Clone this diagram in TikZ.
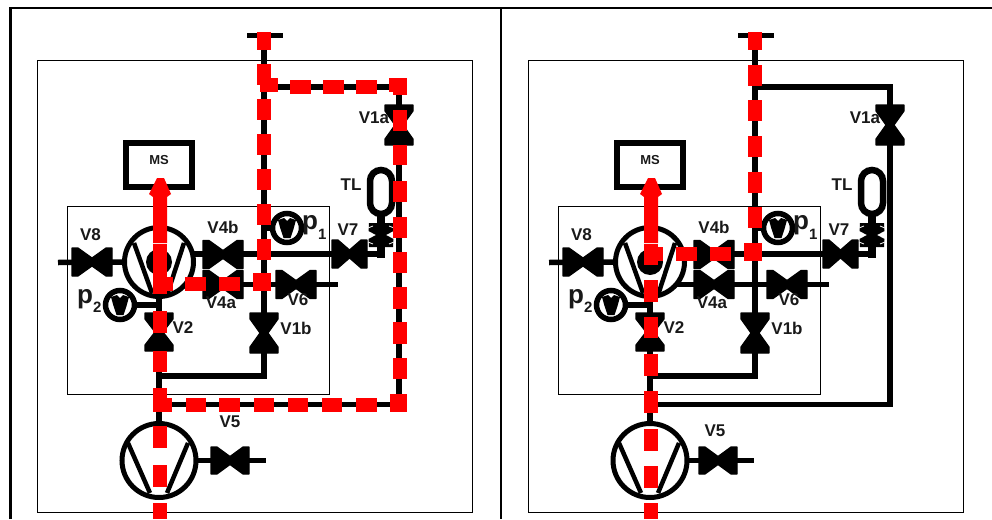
\documentclass[tikz,border=0pt]{standalone}
\usepackage{fontspec}
\setmainfont{Liberation Sans}
\tikzset{
  x=1pt,y=-1pt,
  pipe/.style={line width=5.5pt,draw=black,line cap=butt,line join=miter},
  thinframe/.style={line width=1pt,draw=black},
  heavyframe/.style={line width=2.4pt,draw=black},
  pumpring/.style={line width=5pt,draw=black,fill=white},
  pumpv/.style={line width=4.5pt,draw=black},
  msbox/.style={line width=6pt,draw=black,fill=white},
  redflow/.style={fill=red,draw=none},
  lab/.style={font=\bfseries\fontsize{17}{17}\selectfont,text=black!90,inner sep=0pt},
  mslab/.style={font=\bfseries\fontsize{13}{13}\selectfont,text=black!90,inner sep=0pt},
  gaugelab/.style={font=\bfseries\fontsize{26}{26}\selectfont,text=black!90,inner sep=0pt,anchor=base west},
  pics/valve/.style args={#1/#2}{code={
    \fill[black,line join=round,draw=black,line width=1.2pt]
      (-#1,-#2)--(-#1+6,-#2)--(0,-4)--(#1-6,-#2)--(#1,-#2)--(#1,#2)--(#1-6,#2)--(0,4)--(-#1+6,#2)--(-#1,#2)--cycle;
  }},
  pics/gauge/.style={code={
    \draw[line width=5.5pt,draw=black,fill=white] (0,0) circle (14.5);
    \fill[black] (-9,-8)--(-3,-10)--(0,-7)--(3,-10)--(9,-8)--(6.5,1)--(3.5,10)--(-3.5,10)--(-6.5,1)--cycle;
  }},
  pics/trap/.style={code={
    \fill[black] (-12,-12)--(12,-12)--(12.5,-4)--(5,0)--(12.5,4)--(12,12)--(-12,12)--(-12.5,4)--(-5,0)--(-12.5,-4)--cycle;
    \draw[white,line width=.8pt] (-13,-7)--(-8,-9) (13,-7)--(8,-9) (-13,7)--(-8,9) (13,7)--(8,9);
  }}
}
% #1 prefix, #2 x-shift, #3 valve V5 x, #4 V5 label x, #5 V5 label y
\newcommand{\plant}[5]{%
\begin{scope}[xshift=#2pt]
  \draw[thinframe] (37.5,60.5) rectangle (472.5,512.5);
  \draw[thinframe] (67.5,206) rectangle (329.5,394);
  % junction points
  \coordinate (#1capL) at (247,35.5); \coordinate (#1capR) at (283,35.5);
  \coordinate (#1top) at (264,35.5); \coordinate (#1ja) at (264,87);
  \coordinate (#1jb) at (399,87); \coordinate (#1jc) at (399,404.5);
  \coordinate (#1jd) at (159,404.5); \coordinate (#1je) at (264,376);
  \coordinate (#1jf) at (159,376); \coordinate (#1jg) at (264,254);
  \coordinate (#1jh) at (264,284.5); \coordinate (#1ji) at (381,254);
  \coordinate (#1upump) at (159,262); \coordinate (#1lpump) at (159,460.5);
  \coordinate (#1g1) at (287,228); \coordinate (#1g2) at (120,305);
  \coordinate (#1vfive) at (#3,460.5);
  % pipes
  \draw[pipe] (#1capL)--(#1capR);
  \draw[pipe] (#1top)--(#1je)--(#1jf);
  \draw[pipe] (#1ja)--(#1jb)--(#1jc)--(#1jd);
  \draw[pipe] (#1upump)--(#1lpump);
  \draw[pipe] (58,262.5)--(#1upump);
  \draw[pipe] (#1upump |- #1jg)--(#1ji);
  \draw[pipe] (#1upump |- #1jh)--(338,284.5);
  \draw[pipe] (#1g1)--(#1g1 -| #1top);
  \draw[pipe] (#1g2)--(#1g2 -| #1upump);
  \draw[pipe] (#1lpump)--(#3+36,460.5);
  \draw[line width=7.5pt] (381,205)--(381,258);
  % pumps
  \draw[pumpring] (#1upump) circle (34.5);
  \draw[pumpring] (#1lpump) circle (37);
  \fill[black] (#1upump) circle (13);
  \draw[pumpv] (134,243)--(152,293) (184,243)--(167,295);
  \draw[pumpv] (128,443)--(150,493) (188,443)--(167,493);
  % valves
  \pic at (92,262) {valve=20/14};
  \pic at (223,254.5) {valve=20/14};
  \pic at (223,284.5) {valve=20/14};
  \pic at (296,284.5) {valve=20/14};
  \pic at (349.5,254) {valve=17.5/14};
  \pic at (#3,460.5) {valve=19/13.5};
  \pic[rotate=90] at (399,125) {valve=20/14};
  \pic[rotate=90] at (264,333) {valve=20/14};
  \pic[rotate=90] at (159,332) {valve=19/14};
  % tank with isolation valve
  \pic at (381,235) {trap};
  \draw[line width=6.5pt,fill=white,rounded corners=11pt] (370,170) rectangle (392,214);
  % gauges
  \pic at (#1g1) {gauge};
  \pic at (#1g2) {gauge};
  % mass spectrometer
  \draw[msbox] (126,143) rectangle (192,187);
  \node[mslab] (#1ms) at (159,160) {MS};
  % labels
  \node[lab] (#1lV8) at (90.5,235) {V8};
  \node[lab] (#1lV4b) at (223,227.5) {V4b};
  \node[lab] (#1lV4a) at (221,302.5) {V4a};
  \node[lab] (#1lV2) at (183,327.5) {V2};
  \node[lab] (#1lV1b) at (296,328) {V1b};
  \node[lab] (#1lV1a) at (374,117.5) {V1a};
  \node[lab] (#1lTL) at (351,184.5) {TL};
  \node[lab] (#1lV7) at (348,229.5) {V7};
  \node[lab] (#1lV6) at (298,299.5) {V6};
  \node[lab] (#1lV5) at (#4,#5) {V5};
  \node[gaugelab] (#1lp1) at (302,229.5) {p\raisebox{-9.5pt}{\fontsize{15}{15}\selectfont 1}};
  \node[gaugelab] (#1lp2) at (77,303) {p\raisebox{-9.5pt}{\fontsize{15}{15}\selectfont 2}};
  % flow arrow into MS
  \fill[redflow] (157,178)--(164,178)--(171,194)--(167,197)--(167,243)--(153,243)--(153,197)--(149,194)--cycle;
\end{scope}}
\newcommand{\rd}[4]{\fill[redflow] (#1,#2) rectangle (#3,#4);}
\begin{document}
\begin{tikzpicture}
\useasboundingbox (0,0) rectangle (992,519);
\draw[heavyframe] (10.3,519)--(10.3,8)--(992,8);
\draw[heavyframe] (501,8)--(501,519);
\plant{a}{0}{230}{230}{422}
\plant{b}{491}{227}{224}{431}
% ---------- left panel flow
\rd{257}{32}{271}{50}\rd{257}{64}{271}{85}\rd{260}{78}{278}{92}
\rd{290}{80}{311}{94}\rd{323}{80}{344}{94}\rd{356}{80}{377}{94}
\rd{389}{78}{407}{92}\rd{393}{78}{407}{95}
\rd{257}{99}{271}{120}\rd{257}{134}{271}{155}\rd{257}{169}{271}{190}
\rd{257}{204}{271}{225}\rd{257}{239}{271}{260}
\rd{253}{273}{271}{291}
\rd{393}{110}{407}{131}\rd{393}{145}{407}{165}\rd{393}{181}{407}{202}
\rd{393}{217}{407}{238}\rd{393}{252}{407}{273}\rd{393}{287}{407}{309}
\rd{393}{322}{407}{344}\rd{393}{358}{407}{379}\rd{390}{394}{407}{412}
\rd{186}{398}{206}{412}\rd{219}{398}{240}{412}\rd{254}{398}{274}{412}
\rd{288}{398}{308}{412}\rd{322}{398}{342}{412}\rd{356}{398}{377}{412}
\rd{153}{388}{167}{412}\rd{153}{398}{172}{412}
\rd{153}{244}{167}{294}\rd{153}{277}{173}{291}
\rd{185}{277}{206}{291}\rd{219}{277}{240}{291}
\rd{153}{311}{167}{333}\rd{153}{351}{167}{372}
\rd{153}{426}{167}{448}\rd{153}{465}{167}{487}\rd{153}{503}{167}{519}
% ---------- right panel flow
\rd{748}{32}{762}{50}\rd{748}{65}{762}{86}\rd{748}{100}{762}{121}
\rd{748}{136}{762}{157}\rd{748}{172}{762}{193}\rd{748}{207}{762}{228}
\rd{744}{243}{762}{261}\rd{710}{247}{731}{261}\rd{676}{247}{697}{261}
\rd{644}{244}{658}{265}\rd{644}{247}{663}{261}
\rd{644}{280}{658}{302}\rd{644}{317}{658}{338}\rd{644}{354}{658}{376}
\rd{644}{391}{658}{413}\rd{644}{429}{658}{451}\rd{644}{466}{658}{488}
\rd{644}{503}{658}{519}
\end{tikzpicture}
\end{document}
